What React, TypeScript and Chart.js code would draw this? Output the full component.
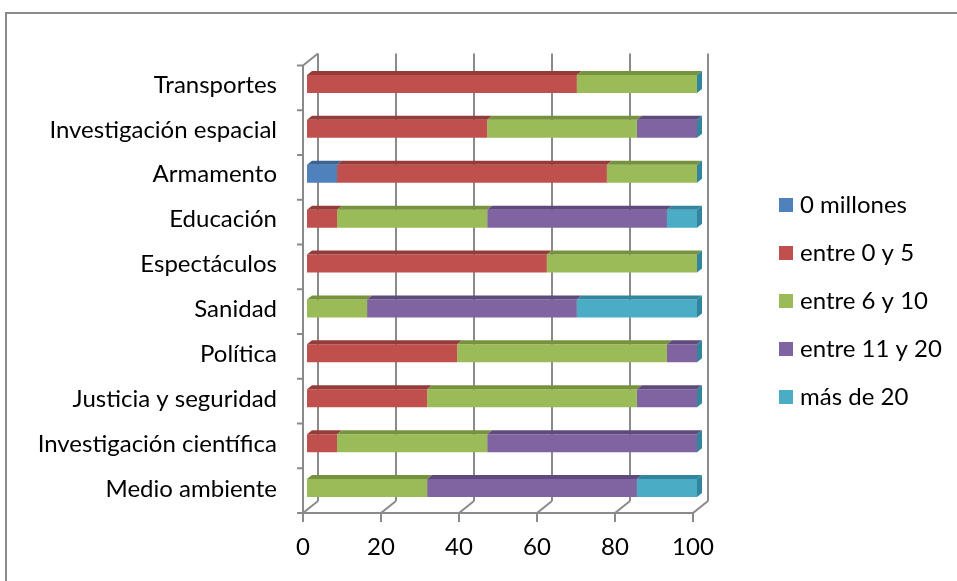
import React, { useEffect, useRef } from "react";
import { Chart, registerables } from "chart.js";

Chart.register(...registerables);

const categories = [
  "Transportes",
  "Investigación espacial",
  "Armamento",
  "Educación",
  "Espectáculos",
  "Sanidad",
  "Política",
  "Justicia y seguridad",
  "Investigación científica",
  "Medio ambiente",
];

const seriesNames = ["0 millones", "entre 0 y 5", "entre 6 y 10", "entre 11 y 20", "más de 20"];

const cero = [0, 0, 7.7, 0, 0, 0, 0, 0, 0, 0];
const entre0y5 = [69.2, 46.2, 69.2, 7.7, 61.5, 0, 38.5, 30.8, 7.7, 0];
const entre6y10 = [30.8, 38.4, 23.1, 38.5, 38.5, 15.4, 53.8, 53.8, 38.5, 30.8];
const entre11y20 = [0, 15.4, 0, 46.1, 0, 53.8, 7.7, 15.4, 53.8, 53.8];
const masDe20 = [0, 0, 0, 7.7, 0, 30.8, 0, 0, 0, 15.4];

const xTicks = [0, 20, 40, 60, 80, 100];

const fronts = ["#4F81BD", "#C0504D", "#9BBB59", "#8064A2", "#4BACC6"];
const tops = ["#3B6496", "#943C3A", "#77923F", "#5F4A7C", "#31859C"];

const FONT = "Lato";
const FONT_SIZE = 24;
const GRID = "#8a8a8a";

const framePlugin = {
  id: "frame3d",
  beforeDatasetsDraw(chart: any) {
    const ctx = chart.ctx;
    const xs = chart.scales.x;
    const area = chart.chartArea;
    const fTop = area.top + 4;
    const fBot = area.bottom + 2.5;
    const bTop = fTop - 12;
    const bBot = fBot - 12;
    ctx.save();
    ctx.strokeStyle = GRID;
    ctx.lineWidth = 2;
    ctx.lineCap = "butt";
    const line = (x1: number, y1: number, x2: number, y2: number) => {
      ctx.beginPath();
      ctx.moveTo(x1, y1);
      ctx.lineTo(x2, y2);
      ctx.stroke();
    };
    const xf0 = xs.getPixelForValue(0) - 4;
    const xf100 = xs.getPixelForValue(100) - 4;
    xTicks.forEach((v) => {
      const xf = xs.getPixelForValue(v) - 4;
      const xb = xf + 15;
      line(xb, bTop, xb, bBot);
      line(xb, bBot, xf, fBot);
      line(xf, fBot, xf, fBot + 9);
    });
    line(xf0, fBot, xf100, fBot);
    line(xf0, fTop, xf0, fBot);
    line(xf0, fTop, xf0 + 15, bTop);
    const n = categories.length;
    for (let k = 0; k <= n; k++) {
      const y = fTop + (k * (fBot - fTop)) / n;
      line(xf0 - 6, y, xf0, y);
    }
    ctx.restore();
  },
  afterDatasetsDraw(chart: any) {
    const ctx = chart.ctx;
    const dx = 5;
    const dy = 4;
    ctx.save();
    chart.data.datasets.forEach((ds: any, di: number) => {
      const meta = chart.getDatasetMeta(di);
      meta.data.forEach((el: any) => {
        const p = el.getProps(["x", "y", "base", "height"], true);
        const top = p.y - p.height / 2;
        const bot = p.y + p.height / 2;
        const x0 = Math.min(p.base, p.x);
        const x1 = Math.max(p.base, p.x);
        ctx.fillStyle = tops[di];
        if (x1 - x0 > 0.5) {
          ctx.beginPath();
          ctx.moveTo(x0, top);
          ctx.lineTo(x0 + dx, top - dy);
          ctx.lineTo(x1 + dx, top - dy);
          ctx.lineTo(x1, top);
          ctx.closePath();
          ctx.fill();
        }
        if (di === chart.data.datasets.length - 1) {
          ctx.beginPath();
          ctx.moveTo(x1, top);
          ctx.lineTo(x1 + dx, top - dy);
          ctx.lineTo(x1 + dx, bot - dy);
          ctx.lineTo(x1, bot);
          ctx.closePath();
          ctx.fill();
        }
      });
    });
    ctx.restore();
  },
  afterDraw(chart: any) {
    const ctx = chart.ctx;
    ctx.save();
    ctx.strokeStyle = "#8a8a8a";
    ctx.lineWidth = 2;
    ctx.strokeRect(6, 13, 1000, 1000);
    ctx.font = `${FONT_SIZE}px ${FONT}`;
    ctx.textBaseline = "middle";
    ctx.textAlign = "left";
    seriesNames.forEach((name, i) => {
      const cy = 205 + i * 48;
      ctx.fillStyle = fronts[i];
      ctx.fillRect(779, cy - 7, 14, 14);
      ctx.fillStyle = "#000";
      ctx.fillText(name, 800, cy);
    });
    ctx.restore();
  },
};

export default function App() {
  const ref = useRef<HTMLCanvasElement | null>(null);
  useEffect(() => {
    document.body.style.margin = "0";
    if (!ref.current) return;
    const values = [cero, entre0y5, entre6y10, entre11y20, masDe20];
    const chart = new Chart(ref.current, {
      type: "bar",
      data: {
        labels: categories,
        datasets: seriesNames.map((name, i) => ({
          label: name,
          data: values[i],
          backgroundColor: fronts[i],
          borderWidth: 0,
          barPercentage: 0.4,
          categoryPercentage: 1,
        })),
      },
      options: {
        indexAxis: "y",
        responsive: false,
        animation: false,
        layout: { padding: { left: 0, right: 260, top: 61.5, bottom: 10.5 } },
        plugins: {
          legend: { display: false },
          tooltip: { enabled: false },
        },
        scales: {
          x: {
            stacked: true,
            min: 0,
            max: 100,
            afterFit: (s: any) => {
              s.height = 60;
            },
            afterBuildTicks: (s: any) => {
              s.ticks = xTicks.map((v) => ({ value: v }));
            },
            grid: { display: false, drawTicks: false },
            border: { display: false },
            ticks: {
              labelOffset: -4,
              padding: 22,
              color: "#000",
              font: { family: FONT, size: FONT_SIZE },
            },
          },
          y: {
            stacked: true,
            afterFit: (s: any) => {
              s.width = 307;
            },
            grid: { display: false, drawTicks: false },
            border: { display: false },
            ticks: {
              labelOffset: 1,
              padding: 30,
              color: "#000",
              font: { family: FONT, size: FONT_SIZE },
            },
          },
        },
      },
      plugins: [framePlugin],
    });
    return () => chart.destroy();
  }, []);
  return (
    <div style={{ width: 957, height: 581, position: "relative", background: "#fff" }}>
      <canvas ref={ref} width={957} height={581} />
    </div>
  );
}
